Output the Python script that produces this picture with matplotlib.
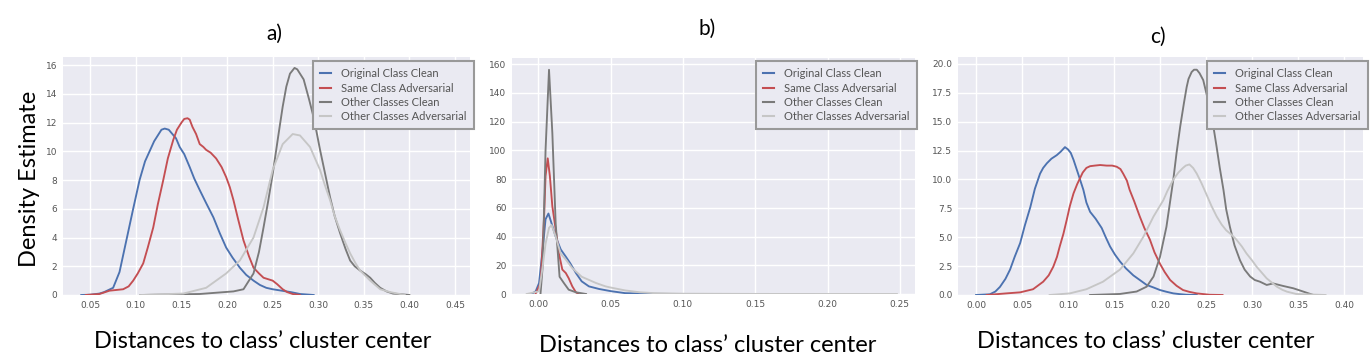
import matplotlib
matplotlib.use("Agg")
import matplotlib.pyplot as plt
from matplotlib.lines import Line2D

W, H = 1370, 358

labels = ["Original Class Clean", "Same Class Adversarial",
          "Other Classes Clean", "Other Classes Adversarial"]
colors = ["#4C72B0", "#C44E52", "#7a7a7a", "#c6c6c6"]

# ---------------- panel a ----------------
a_blue_x = [0.040, 0.050, 0.060, 0.065, 0.075, 0.082, 0.0895, 0.097, 0.104, 0.110,
            0.115, 0.120, 0.125, 0.128, 0.1316, 0.136, 0.140, 0.144, 0.148, 0.153,
            0.159, 0.164, 0.170, 0.177, 0.185, 0.192, 0.199, 0.206, 0.214, 0.221,
            0.229, 0.236, 0.243, 0.250, 0.260, 0.270, 0.280, 0.295]
a_blue_y = [0.0, 0.02, 0.1, 0.2, 0.5, 1.6, 3.8, 6.0, 8.0, 9.3,
            10.0, 10.7, 11.2, 11.5, 11.58, 11.5, 11.2, 10.9, 10.3, 9.8,
            8.9, 8.1, 7.3, 6.4, 5.4, 4.3, 3.3, 2.6, 1.9, 1.4,
            1.0, 0.7, 0.5, 0.4, 0.3, 0.2, 0.07, 0.0]
a_red_x = [0.045, 0.060, 0.071, 0.086, 0.092, 0.097, 0.102, 0.108, 0.113, 0.119,
           0.124, 0.130, 0.135, 0.141, 0.145, 0.150, 0.153, 0.1566, 0.159, 0.162,
           0.166, 0.170, 0.174, 0.177, 0.182, 0.188, 0.194, 0.199, 0.203, 0.207,
           0.212, 0.218, 0.224, 0.229, 0.235, 0.240, 0.245, 0.250, 0.255, 0.261,
           0.266, 0.272, 0.280]
a_red_y = [0.0, 0.07, 0.3, 0.4, 0.6, 1.0, 1.5, 2.2, 3.3, 4.7,
           6.3, 8.0, 9.5, 10.8, 11.5, 12.0, 12.25, 12.3, 12.2, 11.7,
           11.2, 10.5, 10.3, 10.1, 9.9, 9.5, 8.9, 8.2, 7.5, 6.6,
           5.3, 3.8, 2.7, 1.9, 1.5, 1.2, 1.1, 1.0, 0.75, 0.4,
           0.2, 0.07, 0.0]
a_dgray_x = [0.105, 0.170, 0.207, 0.218, 0.229, 0.235, 0.240, 0.245, 0.250, 0.256,
             0.261, 0.265, 0.269, 0.274, 0.277, 0.280, 0.284, 0.287, 0.290, 0.294,
             0.298, 0.302, 0.307, 0.313, 0.318, 0.324, 0.330, 0.335, 0.340, 0.346,
             0.352, 0.357, 0.362, 0.368, 0.375, 0.382, 0.400]
a_dgray_y = [0.0, 0.07, 0.25, 0.4, 1.5, 3.0, 4.7, 6.5, 8.4, 11.0,
             13.1, 14.5, 15.4, 15.8, 15.7, 15.4, 15.0, 14.3, 13.6, 12.6,
             11.4, 10.1, 8.6, 6.8, 5.5, 4.3, 3.2, 2.4, 2.0, 1.7,
             1.45, 1.2, 0.85, 0.5, 0.25, 0.1, 0.0]
a_lgray_x = [0.105, 0.152, 0.177, 0.199, 0.214, 0.229, 0.240, 0.250, 0.261, 0.272,
             0.280, 0.291, 0.302, 0.307, 0.313, 0.318, 0.324, 0.330, 0.335, 0.341,
             0.346, 0.357, 0.368, 0.379, 0.395]
a_lgray_y = [0.0, 0.1, 0.5, 1.5, 2.4, 4.0, 6.1, 8.7, 10.5, 11.2,
             11.1, 10.3, 8.7, 7.7, 6.6, 5.5, 4.5, 3.6, 2.9, 2.2,
             1.7, 1.0, 0.4, 0.2, 0.0]

# ---------------- panel b ----------------
b_blue_x = [-0.0046, -0.0018, 0.0005, 0.003, 0.005, 0.007, 0.0092, 0.012, 0.0155, 0.019, 0.022,
            0.026, 0.030, 0.035, 0.042, 0.050, 0.060, 0.070, 0.080, 0.100]
b_blue_y = [0.0, 1.9, 7.6, 31, 52, 56, 49, 40, 31, 26, 21.5,
            14.6, 8.8, 5.3, 3.5, 2.0, 0.6, 0.3, 0.1, 0.0]
b_red_x = [-0.002, 0.0016, 0.004, 0.005, 0.0065, 0.008, 0.0097, 0.012, 0.0143, 0.0166, 0.019,
           0.021, 0.0235, 0.026, 0.028]
b_red_y = [0.0, 7.6, 54, 82, 94.4, 82, 61, 45, 28, 17, 14.6,
           11, 5.3, 1.2, 0.0]
b_dgray_x = [0.0015, 0.003, 0.005, 0.0074, 0.0097, 0.012, 0.0147, 0.0177, 0.021, 0.026, 0.033]
b_dgray_y = [0.0, 19, 100, 156, 112, 49, 12, 7.6, 3.0, 1.2, 0.0]
b_lgray_x = [-0.008, 0.0005, 0.003, 0.005, 0.0074, 0.0092, 0.012, 0.0155, 0.019, 0.0235, 0.030,
             0.040, 0.0465, 0.050, 0.060, 0.070, 0.080, 0.100, 0.150, 0.200, 0.248]
b_lgray_y = [0.0, 1.9, 19, 35, 46, 48, 40, 28, 24, 18, 12,
             7.6, 5.3, 4.5, 2.5, 1.2, 0.6, 0.2, 0.05, 0.02, 0.0]

# ---------------- panel c ----------------
c_blue_x = [0.0, 0.015, 0.021, 0.026, 0.032, 0.037, 0.042, 0.048, 0.053, 0.059,
            0.064, 0.0696, 0.073, 0.077, 0.082, 0.0877, 0.092, 0.0967, 0.100, 0.103,
            0.106, 0.111, 0.1167, 0.120, 0.124, 0.130, 0.1366, 0.141, 0.1457, 0.151,
            0.1565, 0.163, 0.171, 0.178, 0.1855, 0.193, 0.200, 0.207, 0.2145, 0.222,
            0.229, 0.240]
c_blue_y = [0.0, 0.06, 0.3, 0.7, 1.4, 2.2, 3.3, 4.5, 6.0, 7.6,
            9.2, 10.5, 11.0, 11.4, 11.8, 12.1, 12.4, 12.8, 12.6, 12.3,
            11.7, 10.5, 9.1, 8.0, 7.2, 6.6, 5.8, 5.0, 4.2, 3.5,
            2.9, 2.3, 1.7, 1.3, 0.87, 0.65, 0.43, 0.28, 0.14, 0.07,
            0.02, 0.0]
c_red_x = [0.0116, 0.033, 0.048, 0.062, 0.073, 0.079, 0.084, 0.088, 0.091, 0.095,
           0.0986, 0.102, 0.106, 0.110, 0.113, 0.116, 0.120, 0.124, 0.129, 0.135,
           0.142, 0.148, 0.153, 0.157, 0.160, 0.164, 0.167, 0.172, 0.178, 0.183,
           0.189, 0.194, 0.200, 0.205, 0.211, 0.218, 0.225, 0.232, 0.240, 0.254, 0.268]
c_red_y = [0.0, 0.14, 0.23, 0.5, 1.15, 1.7, 2.45, 3.3, 4.2, 5.3,
           6.5, 7.7, 8.8, 9.6, 10.1, 10.6, 11.0, 11.15, 11.2, 11.25,
           11.2, 11.2, 11.1, 10.9, 10.5, 9.9, 9.1, 8.1, 6.8, 5.8,
           4.8, 3.7, 2.7, 2.0, 1.3, 0.8, 0.43, 0.27, 0.14, 0.02, 0.0]
c_dgray_x = [0.124, 0.1565, 0.1746, 0.1855, 0.193, 0.200, 0.207, 0.2145, 0.218, 0.222,
             0.226, 0.229, 0.231, 0.2344, 0.237, 0.240, 0.243, 0.247, 0.250, 0.254,
             0.258, 0.2616, 0.265, 0.269, 0.272, 0.276, 0.281, 0.287, 0.292, 0.298,
             0.303, 0.3087, 0.316, 0.323, 0.334, 0.345, 0.356, 0.3667]
c_dgray_y = [0.0, 0.09, 0.3, 0.72, 1.6, 3.3, 5.9, 10.0, 12.3, 14.6,
             16.6, 18.0, 18.7, 19.3, 19.5, 19.5, 19.2, 18.6, 17.6, 16.3,
             14.6, 12.8, 11.0, 9.1, 7.4, 5.9, 4.3, 3.0, 2.2, 1.6,
             1.3, 1.15, 0.87, 1.0, 0.78, 0.58, 0.29, 0.0]
c_lgray_x = [0.080, 0.102, 0.120, 0.138, 0.1565, 0.171, 0.182, 0.193, 0.2036, 0.208,
             0.2145, 0.220, 0.225, 0.228, 0.232, 0.236, 0.240, 0.245, 0.250, 0.256,
             0.2616, 0.267, 0.272, 0.278, 0.283, 0.289, 0.294, 0.300, 0.305, 0.311,
             0.316, 0.322, 0.327, 0.333, 0.338, 0.348, 0.380]
c_lgray_y = [0.0, 0.14, 0.5, 1.15, 2.2, 3.6, 5.05, 6.8, 8.2, 9.0,
             10.0, 10.6, 11.0, 11.2, 11.3, 11.0, 10.5, 9.7, 8.8, 7.7,
             6.8, 6.1, 5.6, 5.2, 4.8, 4.2, 3.6, 3.0, 2.45, 1.9,
             1.44, 1.05, 0.72, 0.45, 0.29, 0.09, 0.0]

a_xticks = [0.05, 0.10, 0.15, 0.20, 0.25, 0.30, 0.35, 0.40, 0.45]
a_yticks = [0, 2, 4, 6, 8, 10, 12, 14, 16]
b_xticks = [0.00, 0.05, 0.10, 0.15, 0.20, 0.25]
b_yticks = [0, 20, 40, 60, 80, 100, 120, 140, 160]
c_xticks = [0.00, 0.05, 0.10, 0.15, 0.20, 0.25, 0.30, 0.35, 0.40]
c_yticks = [0.0, 2.5, 5.0, 7.5, 10.0, 12.5, 15.0, 17.5, 20.0]

panels = [
    dict(box=(63, 57, 470, 295), xlim=(0.020, 0.4665), ylim=(0, 16.56),
         xt=a_xticks, yt=a_yticks, yfmt="{:.0f}",
         series=[(a_blue_x, a_blue_y), (a_red_x, a_red_y), (a_dgray_x, a_dgray_y), (a_lgray_x, a_lgray_y)],
         leg=(313, 61), title="a)", tpos=(274, 34), xlpos=(263, 341)),
    dict(box=(512, 58, 915, 294), xlim=(-0.0182, 0.2605), ylim=(0, 164.2),
         xt=b_xticks, yt=b_yticks, yfmt="{:.0f}",
         series=[(b_blue_x, b_blue_y), (b_red_x, b_red_y), (b_dgray_x, b_dgray_y), (b_lgray_x, b_lgray_y)],
         leg=(756, 61), title="b)", tpos=(707, 29), xlpos=(708, 345)),
    dict(box=(958, 57, 1363, 295), xlim=(-0.0196, 0.4207), ylim=(0, 20.6),
         xt=c_xticks, yt=c_yticks, yfmt="{:.1f}",
         series=[(c_blue_x, c_blue_y), (c_red_x, c_red_y), (c_dgray_x, c_dgray_y), (c_lgray_x, c_lgray_y)],
         leg=(1207, 61), title="c)", tpos=(1158, 37), xlpos=(1146, 341)),
]

fig = plt.figure(figsize=(W / 100, H / 100), dpi=100)
fig.patch.set_facecolor("white")
big_font = ["Lato", "DejaVu Sans"]

for p in panels:
    l, t, r, b = p["box"]
    ax = fig.add_axes([l / W, 1 - b / H, (r - l) / W, (b - t) / H])
    ax.set_facecolor("#EAEAF2")
    for s in ax.spines.values():
        s.set_visible(False)
    ax.grid(True, color="white", linewidth=1.0)
    ax.set_axisbelow(True)
    for (xs, ys), c in zip(p["series"], colors):
        ax.plot(xs, ys, color=c, lw=1.35, solid_joinstyle="round")
    ax.set_xlim(*p["xlim"])
    ax.set_ylim(*p["ylim"])
    ax.set_xticks(p["xt"])
    ax.set_xticklabels(["{:.2f}".format(v) for v in p["xt"]])
    ax.set_yticks(p["yt"])
    ax.set_yticklabels([p["yfmt"].format(v) for v in p["yt"]])
    ax.tick_params(axis="both", length=0, labelsize=6.5, labelcolor="#555555", pad=4)
    handles = [Line2D([0], [0], color=c, lw=1.5) for c in colors]
    leg = ax.legend(handles, labels, loc="upper left",
                    bbox_to_anchor=(p["leg"][0] / W, 1 - p["leg"][1] / H),
                    bbox_transform=fig.transFigure, borderaxespad=0,
                    prop={"family": big_font, "size": 8.0}, labelcolor="#555555",
                    handlelength=1.0, handletextpad=0.9, labelspacing=0.3,
                    borderpad=0.65, fancybox=False, framealpha=1.0,
                    facecolor="#EAEAF2", edgecolor="#999999")
    leg.get_frame().set_linewidth(1.5)
    fig.text(p["tpos"][0] / W, 1 - p["tpos"][1] / H, p["title"], ha="center", va="center",
             fontsize=15, family=big_font, color="black")
    fig.text(p["xlpos"][0] / W, 1 - p["xlpos"][1] / H, "Distances to class\u2019 cluster center",
             ha="center", va="center", fontsize=17, family=big_font, color="black")

fig.text(30 / W, 1 - 179 / H, "Density Estimate", rotation=90, ha="center", va="center",
         fontsize=17, family=big_font, color="black")

fig.savefig("out.png", dpi=100, facecolor="white")
